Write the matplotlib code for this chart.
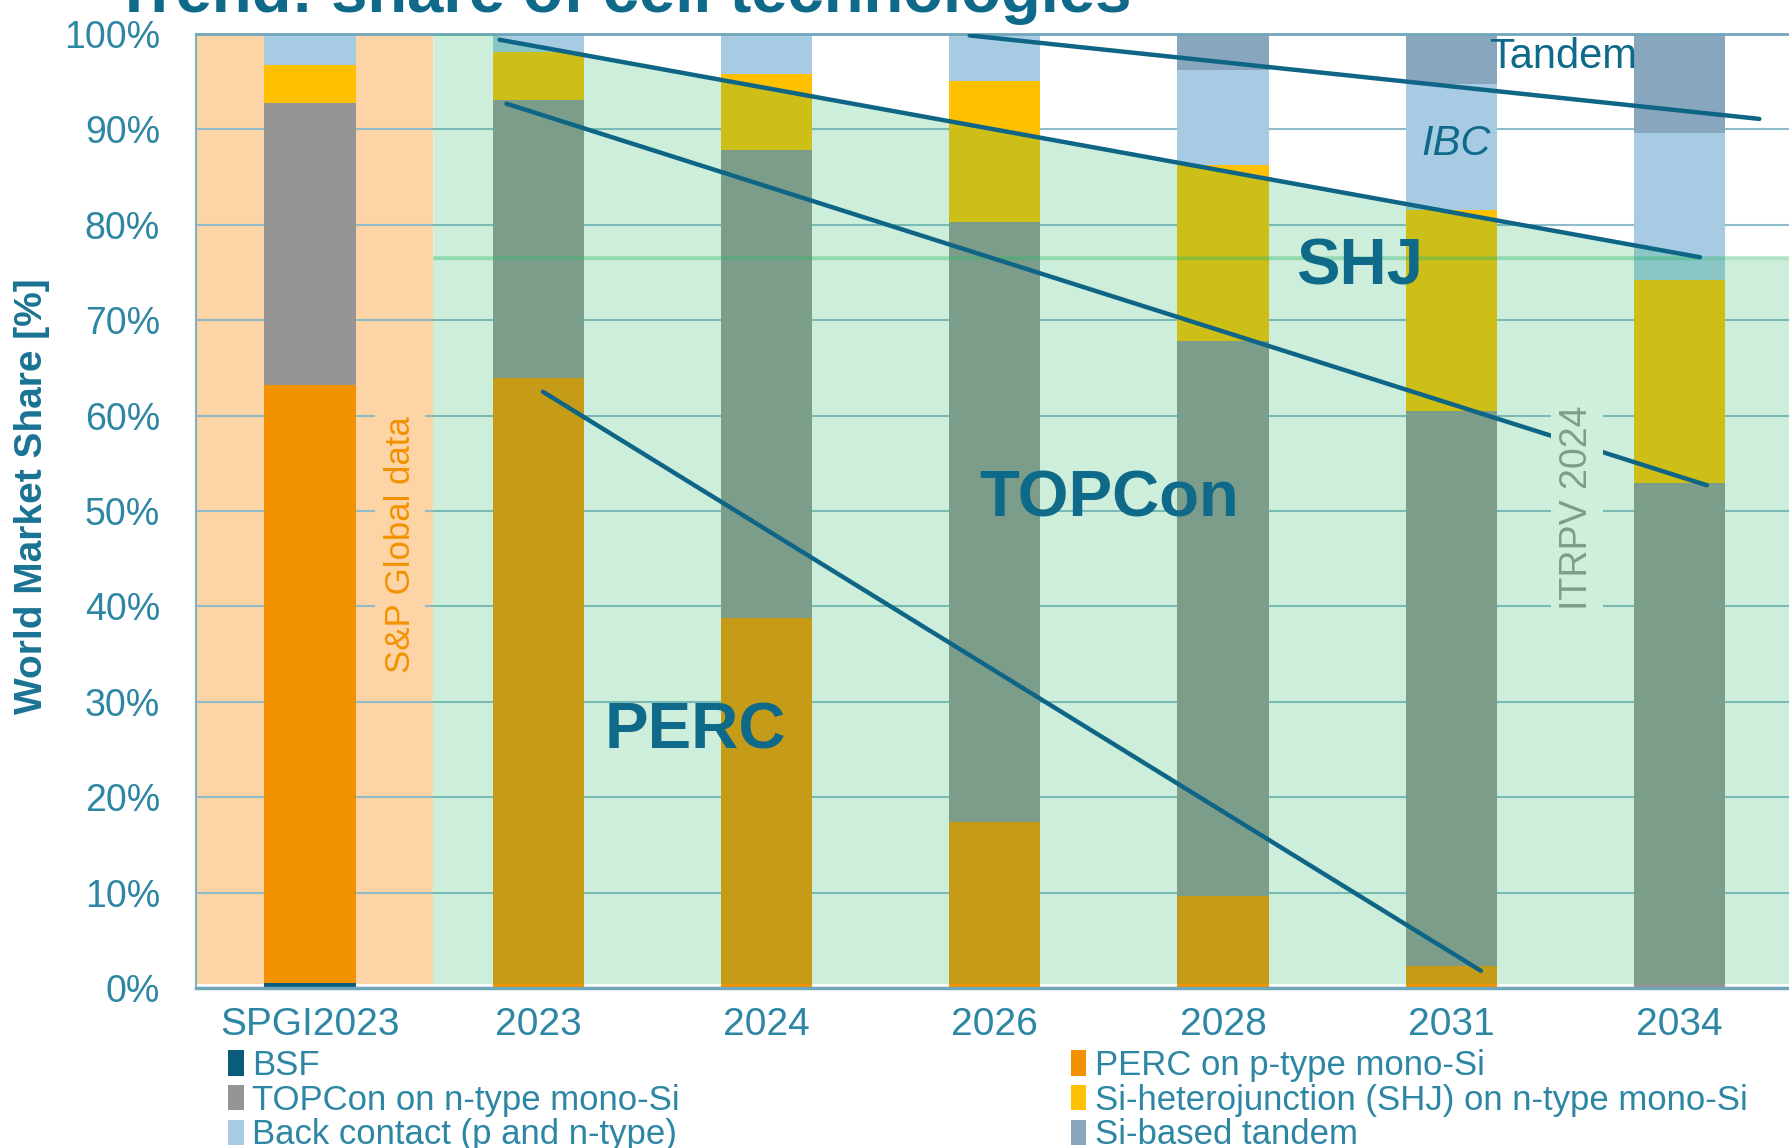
import matplotlib
matplotlib.use("Agg")
import matplotlib.pyplot as plt
from matplotlib.patches import Patch, Polygon, Rectangle
import numpy as np

plt.rcParams['font.family'] = ['Liberation Sans', 'DejaVu Sans']

# ---------------- data ----------------
categories = ["SPGI2023", "2023", "2024", "2026", "2028", "2031", "2034"]
bsf    = [0.5, 0, 0, 0, 0, 0, 0]
perc   = [62.7, 63.9, 38.8, 17.4, 9.6, 2.3, 0]
topcon = [29.6, 29.2, 49.0, 62.9, 58.2, 58.2, 52.9]
shj    = [3.9, 5.0, 8.0, 14.8, 18.5, 21.0, 21.3]
bc     = [3.3, 1.9, 4.2, 4.9, 9.9, 13.3, 15.4]
tandem = [0, 0, 0, 0, 3.8, 5.2, 10.4]

series_names = ["BSF", "PERC on p-type mono-Si", "TOPCon on n-type mono-Si",
                "Si-heterojunction (SHJ) on n-type mono-Si",
                "Back contact (p and n-type)", "Si-based tandem"]
series_values = [bsf, perc, topcon, shj, bc, tandem]
series_colors = ["#0B5C7A", "#F39200", "#959595", "#FFC000", "#A6CBE2", "#89A6BF"]

yticks = [0, 10, 20, 30, 40, 50, 60, 70, 80, 90, 100]
ytick_labels = [f"{v}%" for v in yticks]

# trend annotation lines (x in category index, y in %)
perc_trend_x, perc_trend_y = [1.02, 5.13], [62.5, 1.8]
topcon_trend_x, topcon_trend_y = [0.86, 6.12], [92.7, 52.7]
shj_trend_x, shj_trend_y = [0.83, 6.09], [99.4, 76.6]
tandem_trend_x, tandem_trend_y = [2.89, 6.35], [99.85, 91.1]

# ---------------- figure ----------------
W, H = 1789, 1148
fig = plt.figure(figsize=(W / 100, H / 100), dpi=100)
ax = fig.add_axes([196 / W, 1 - 988 / H, 1 - 196 / W, (988 - 34) / H])

x = np.arange(len(categories))
xmin, xmax = -0.5, 6.48
split = 0.54

# background shading for S&P data region
ax.add_patch(Rectangle((xmin, 0.4), split - xmin, 99.6, facecolor="#FDD4A6",
                       edgecolor="none", zorder=0.2))

# grid
ax.set_axisbelow(True)
ax.yaxis.grid(True, color="#8FBCCB", linewidth=1.5)
ax.xaxis.grid(False)

# stacked bars
bottom = np.zeros(len(categories))
for name, vals, col in zip(series_names, series_values, series_colors):
    vals = np.array(vals, dtype=float)
    ax.bar(x, vals, width=0.4, bottom=bottom, color=col, edgecolor="none",
           zorder=2, label=name)
    bottom += vals

# ITRPV translucent green overlay
green = "#2EB96B"
ax.add_patch(Rectangle((split, 0.4), xmax + 0.1 - split, 76.3,
                       facecolor=green, alpha=0.23, edgecolor="none", zorder=3))
poly = [(split, 76.3), (split, 100), (shj_trend_x[0], 100),
        (shj_trend_x[0], shj_trend_y[0]), (shj_trend_x[1], shj_trend_y[1]),
        (shj_trend_x[1], 76.3)]
ax.add_patch(Polygon(poly, closed=True, facecolor=green, alpha=0.23,
                     edgecolor="none", zorder=3))
ax.plot([split, xmax + 0.1], [76.5, 76.5], color=green, alpha=0.2, lw=2.5,
        zorder=3, solid_capstyle="butt")

# trend lines
line_col = "#0E6585"
for tx, ty in [(perc_trend_x, perc_trend_y), (topcon_trend_x, topcon_trend_y),
               (shj_trend_x, shj_trend_y), (tandem_trend_x, tandem_trend_y)]:
    ax.plot(tx, ty, color=line_col, lw=3.2, zorder=4, solid_capstyle="round")

# technology labels
lab_col = "#0F6A8A"
ax.text(1.69, 26.9, "PERC", fontsize=47, fontweight="bold", color=lab_col,
        ha="center", va="center", zorder=5)
ax.text(3.50, 51.2, "TOPCon", fontsize=47, fontweight="bold", color=lab_col,
        ha="center", va="center", zorder=5)
ax.text(4.60, 75.5, "SHJ", fontsize=47, fontweight="bold", color=lab_col,
        ha="center", va="center", zorder=5)
ax.text(5.02, 88.5, "IBC", fontsize=30, color=lab_col, style="italic",
        ha="center", va="center", zorder=5)
ax.text(5.49, 97.6, "Tandem", fontsize=30, color=lab_col,
        ha="center", va="center", zorder=5)

ax.text(0.394, 46.5, "S&P Global data", fontsize=25, color="#F39200",
        rotation=90, ha="center", va="center", zorder=5,
        bbox=dict(facecolor="#FDD4A6", edgecolor="none", pad=6))
ax.text(5.55, 50.3, "ITRPV 2024", fontsize=27, color="#7E9E8A",
        rotation=90, ha="center", va="center", zorder=5,
        bbox=dict(facecolor="#CFEFDD", edgecolor="none", pad=6))

# axes styling
ax.set_xlim(xmin, xmax)
ax.set_ylim(0, 100)
ax.set_xticks(x)
ax.set_xticklabels(categories)
ax.set_yticks(yticks)
ax.set_yticklabels(ytick_labels)
tick_col = "#2D86A3"
ax.tick_params(axis="x", length=0, pad=14, labelsize=28, labelcolor=tick_col)
ax.tick_params(axis="y", length=0, pad=26, labelsize=27, labelcolor=tick_col)
ax.spines["right"].set_visible(False)
ax.spines["left"].set_color("#7FB1C4")
ax.spines["left"].set_linewidth(1.5)
ax.spines["top"].set_color("#6FA6BA")
ax.spines["top"].set_linewidth(2)
ax.spines["bottom"].set_color("#6FA6BA")
ax.spines["bottom"].set_linewidth(2.5)

# y label
fig.text(32 / W, 1 - 496 / H, "World Market Share [%]", rotation=90,
         fontsize=28, fontweight="bold", color="#1A7394",
         ha="center", va="center")

# title (partly cut at the top, as in the reference)
fig.text(114 / W, 1 - 12 / H, "Trend: share of cell technologies",
         fontsize=47, fontweight="bold", color="#0F6A8A",
         ha="left", va="baseline")

# legend
handles = [Patch(facecolor=c, edgecolor="none") for c in series_colors]
order = [0, 2, 4, 1, 3, 5]
leg = fig.legend([handles[i] for i in order], [series_names[i] for i in order],
                 ncol=2, loc="upper left", bbox_to_anchor=(228 / W, 1 - 1049 / H),
                 frameon=False, fontsize=25, labelcolor=tick_col,
                 handlelength=0.45, handleheight=0.75, handletextpad=0.25,
                 labelspacing=0.05, columnspacing=11.25, borderpad=0,
                 borderaxespad=0)

fig.savefig("out.png", dpi=100)
